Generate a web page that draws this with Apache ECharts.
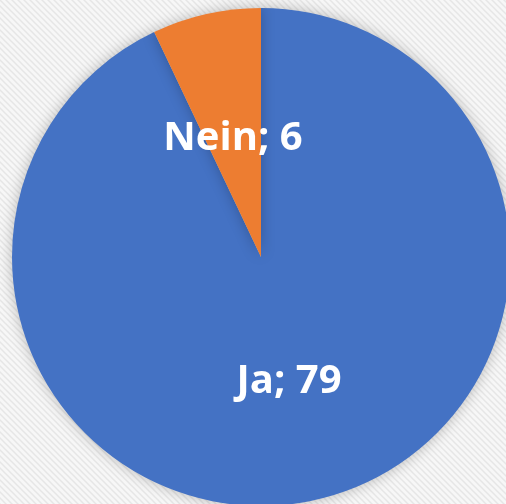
<!DOCTYPE html>
<html>
<head>
<meta charset="utf-8">
<script src="https://cdn.jsdelivr.net/npm/echarts@6/dist/echarts.min.js"></script>
<style>
  html, body { margin: 0; padding: 0; background: #f4f4f4; }
  #chart { width: 506px; height: 504px; }
</style>
</head>
<body>
<div id="chart"></div>
<script>
// Daten
var categories = ['Ja', 'Nein'];
var values = [79, 6];
var colors = ['#4472C4', '#ED7D31'];

// Hintergrund: feine diagonale Streifen
function stripePattern() {
    var c = document.createElement('canvas');
    c.width = 6; c.height = 6;
    var ctx = c.getContext('2d');
    ctx.fillStyle = '#f7f7f7';
    ctx.fillRect(0, 0, 6, 6);
    ctx.strokeStyle = '#e6e6e6';
    ctx.lineWidth = 1.5;
    ctx.beginPath();
    ctx.moveTo(-1, -1); ctx.lineTo(7, 7);
    ctx.moveTo(-4, 2); ctx.lineTo(4, 10);
    ctx.moveTo(2, -4); ctx.lineTo(10, 4);
    ctx.stroke();
    return c;
}

var chart = echarts.init(document.getElementById('chart'));
var option = {
    backgroundColor: { image: stripePattern(), repeat: 'repeat' },
    color: colors,
    animation: false,
    series: [
        {
            type: 'pie',
            center: [261, 257],
            radius: 249,
            startAngle: 90,
            clockwise: true,
            data: categories.map(function (name, i) {
                var item = { name: name, value: values[i] };
                // Nein-Beschriftung etwas tiefer, wie im Original
                if (name === 'Nein') item.label = { offset: [0, 6] };
                return item;
            }),
            label: {
                show: true,
                position: 'inside',
                formatter: '{b}; {c}',
                color: '#ffffff',
                fontFamily: 'Open Sans',
                fontWeight: 'bold',
                fontSize: 40
            },
            labelLine: { show: false },
            itemStyle: {
                borderWidth: 0,
                shadowBlur: 14,
                shadowColor: 'rgba(0, 0, 0, 0.25)'
            }
        }
    ]
};
chart.setOption(option);
</script>
</body>
</html>
